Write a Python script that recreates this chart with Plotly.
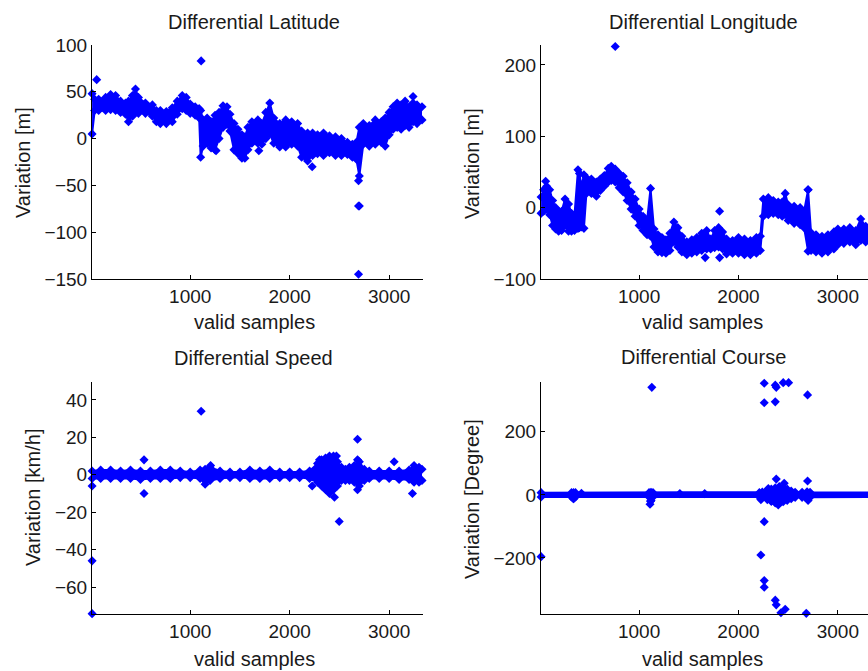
import plotly.graph_objects as go

W, H = 868, 671

# ---------------- data ----------------
# Differential Latitude: band envelope + isolated samples
lat_x = [14, 40, 80, 150, 200, 250, 300, 350, 380, 420, 450, 480, 550, 620, 660, 700, 760, 820, 870, 920,
         960, 1000, 1050, 1090, 1105, 1130, 1170, 1210, 1250, 1290, 1330, 1370, 1400, 1440, 1480, 1520, 1550,
         1580, 1620, 1680, 1720, 1760, 1800, 1840, 1900, 1960, 2020, 2080, 2120, 2180, 2230, 2280, 2340, 2400,
         2460, 2520, 2580, 2630, 2670, 2700, 2740, 2800, 2860, 2920, 2960, 3000, 3040, 3080, 3120, 3160, 3200,
         3240, 3280, 3330]
lat_hi = [48, 42, 42, 44, 47, 46, 40, 38, 40, 46, 53, 44, 38, 36, 30, 30, 29, 33, 40, 46,
          44, 37, 34, 32, 30, 20, 22, 18, 25, 28, 35, 34, 26, 16, 10, 4, 2,
          12, 18, 20, 16, 28, 38, 22, 16, 20, 18, 16, 8, 6, 6, 4, 6, 3,
          2, 0, -4, -6, -4, 12, 16, 14, 20, 18, 22, 28, 34, 38, 36, 40, 34,
          38, 36, 34]
lat_lo = [5, 30, 30, 30, 31, 30, 28, 26, 18, 24, 28, 27, 27, 24, 18, 16, 16, 18, 26, 32,
          30, 27, 25, 22, -20, -8, -5, -10, -12, 0, 12, 15, 8, -12, -16, -21, -21,
          -12, -5, -5, -6, 0, 5, -5, -9, -9, -6, -8, -20, -24, -18, -16, -18, -15,
          -18, -18, -17, -20, -22, -40, -6, -8, -6, -4, -8, 4, 10, 12, 10, 14, 12,
          18, 16, 20]
lat_out_x = [60, 1110, 1260, 1690, 2226, 2692, 2692, 2700, 2692, 3240]
lat_out_y = [63, 83, -13, -13, -30, -45, -72, -72, -145, 45]

# Differential Longitude
lon_x = [14, 40, 70, 100, 130, 160, 190, 220, 255, 290, 320, 350, 385, 400, 420, 445, 470, 520, 570, 610,
         650, 690, 720, 760, 800, 840, 880, 920, 960, 1000, 1040, 1080, 1115, 1150, 1190, 1230, 1270, 1310,
         1350, 1390, 1430, 1480, 1530, 1580, 1630, 1680, 1720, 1760, 1800, 1840, 1880, 1940, 2000, 2060,
         2120, 2180, 2220, 2250, 2300, 2350, 2400, 2440, 2470, 2500, 2560, 2620, 2660, 2700, 2730, 2780,
         2840, 2900, 2960, 3000, 3060, 3120, 3180, 3230, 3280, 3330]
lon_hi = [15, 25, 30, 25, 10, 0, -5, -5, 12, 5, -8, -10, 53, 48, 30, 46, 42, 40, 36, 40,
          45, 55, 58, 54, 48, 44, 35, 22, 12, -2, -12, -18, 27, -30, -38, -42, -45, -36,
          -20, -28, -40, -48, -45, -42, -36, -32, -44, -32, -28, -34, -44, -46, -42, -44,
          -46, -42, -40, 12, 14, 10, 8, 8, 20, 4, 2, 0, -5, 25, -35, -38,
          -40, -38, -34, -30, -30, -28, -32, -16, -26, -28]
lon_lo = [-8, -5, -2, -10, -25, -30, -33, -32, -25, -33, -33, -32, -29, -28, -27, -29, 20, 20, 16, 24,
          30, 36, 38, 36, 28, 22, 10, -2, -12, -25, -32, -38, -40, -55, -62, -63, -64, -60,
          -48, -55, -62, -66, -64, -62, -60, -58, -58, -56, -55, -58, -65, -64, -64, -66,
          -66, -64, -60, -12, -10, -8, -10, -12, -10, -18, -22, -24, -28, -61, -60, -62,
          -64, -62, -58, -52, -50, -48, -52, -46, -48, -50]
lon_out_x = [60, 760, 1665, 1810, 1810, 2700]
lon_out_y = [37, 226, -70, -5, -70, 25]

# Differential Speed
spd_x = [14, 100, 200, 300, 400, 500, 600, 700, 800, 900, 1000, 1100, 1150, 1200, 1300, 1400, 1500, 1600,
         1700, 1800, 1900, 2000, 2100, 2200, 2280, 2320, 2360, 2400, 2440, 2480, 2520, 2560, 2600, 2650,
         2700, 2750, 2800, 2900, 3000, 3100, 3200, 3250, 3300, 3330]
spd_hi = [2, 2.5, 2.5, 2, 2.5, 2, 2, 2.5, 2.5, 2, 1.5, 2.5, 3, 4, 2, 1.5, 1.5, 2.5,
          2, 2.5, 1.5, 1.5, 1.5, 2, 6, 8, 9, 8, 10, 7, 4, 3, 4, 5,
          7, 3, 2, 2, 2, 2, 2.5, 5, 4, 3]
spd_lo = [-2, -2, -2, -2, -2, -2.5, -2, -2, -2, -1.5, -1.5, -2, -5, -3, -2, -1.5, -1.5, -2,
          -2, -2, -1.5, -1.5, -1.5, -2, -4, -6, -8, -10, -8, -6, -3, -3, -3, -4,
          -6, -3, -2, -2, -2, -2.5, -2.5, -4, -4, -3]
spd_out_x = [14, 14, 14, 536, 536, 1110, 1205, 2226, 2300, 2400, 2450, 2470, 2498, 2682, 2682, 2682, 3050, 3234]
spd_out_y = [-6, -46, -74.2, 8, -10, 34, 5, -6, 8, 10, -12, 10, -25, 19, 8, -8, 7, -10]

# Differential Course
crs_x = [14, 320, 340, 360, 1100, 1120, 1140, 2210, 2240, 2290, 2330, 2370, 2410, 2450, 2490, 2530, 2570,
         2640, 2690, 2720, 3340]
crs_hi = [7, 7, 7, 7, 7, 8, 7, 7, 9, 14, 18, 22, 26, 22, 18, 12, 8, 8, 10, 8, 7]
crs_lo = [-7, -7, -12, -7, -7, -18, -7, -7, -10, -15, -20, -26, -26, -22, -18, -12, -8, -8, -12, -8, -7]
crs_out_x = [14, 340, 420, 1110, 1115, 1128, 1410, 1660, 2225, 2225, 2259, 2259, 2259, 2259, 2259,
             2300, 2330, 2370, 2380, 2370, 2370, 2380, 2380, 2400, 2427, 2450, 2460, 2470, 2504,
             2682, 2695, 2695, 2700]
crs_out_y = [-196, -12, 5, -30, -20, 341, 4, 4, -191, -15, 354, 292, -85, -272, -293,
             20, -20, 348, 341, 295, -334, -349, 50, -32, -374, 356, 37, -363, 356,
             -376, 317, 44, -18]

x_ticks = [1000, 2000, 3000]
lat_ticks = [-150, -100, -50, 0, 50, 100]
lon_ticks = [-100, 0, 100, 200]
spd_ticks = [-60, -40, -20, 0, 20, 40]
crs_ticks = [-200, 0, 200]

titles = ["Differential Latitude", "Differential Longitude", "Differential Speed", "Differential Course"]
ylabels = ["Variation [m]", "Variation [m]", "Variation [km/h]", "Variation [Degree]"]
xlabel = "valid samples"

# ---------------- figure ----------------
BLUE = "rgb(0,0,255)"
FONT = "Liberation Sans, Arial, sans-serif"
TXT = "#1a1a1a"

fig = go.Figure()

panels = [
    (lat_x, lat_hi, lat_lo, lat_out_x, lat_out_y, "x", "y"),
    (lon_x, lon_hi, lon_lo, lon_out_x, lon_out_y, "x2", "y2"),
    (spd_x, spd_hi, spd_lo, spd_out_x, spd_out_y, "x3", "y3"),
    (crs_x, crs_hi, crs_lo, crs_out_x, crs_out_y, "x4", "y4"),
]
mk = dict(symbol="diamond", size=7, color=BLUE, line=dict(width=0))
ln = dict(color=BLUE, width=2)
for xs, hi, lo, ox, oy, xa, ya in panels:
    fig.add_trace(go.Scatter(x=xs, y=lo, mode="lines+markers", marker=mk, line=ln, xaxis=xa, yaxis=ya,
                             cliponaxis=False, showlegend=False, hoverinfo="skip"))
    fig.add_trace(go.Scatter(x=xs, y=hi, mode="lines+markers", marker=mk, line=ln, fill="tonexty",
                             fillcolor=BLUE, xaxis=xa, yaxis=ya, cliponaxis=False, showlegend=False,
                             hoverinfo="skip"))
    fig.add_trace(go.Scatter(x=ox, y=oy, mode="markers", marker=mk, xaxis=xa, yaxis=ya,
                             cliponaxis=False, showlegend=False))

def px_x(p):
    return p / W

def px_y(p):
    return 1 - p / H

L_dom = [px_x(92), px_x(423)]
R_dom = [px_x(541), 1.0]
T_dom = [px_y(279), px_y(45)]
B_dom = [px_y(614), px_y(382)]

axis_common = dict(showline=True, linecolor="black", linewidth=1, ticks="inside", ticklen=4,
                   tickcolor="black", showgrid=False, zeroline=False, mirror=False, automargin=False,
                   tickfont=dict(family=FONT, size=19, color=TXT))

fig.update_layout(
    template="none",
    width=W, height=H, margin=dict(l=0, r=0, t=0, b=0, pad=0, autoexpand=False),
    paper_bgcolor="white", plot_bgcolor="white", showlegend=False,
    xaxis=dict(domain=L_dom, anchor="y", range=[13, 3340], tickvals=x_ticks, **axis_common),
    yaxis=dict(domain=T_dom, anchor="x", range=[-150, 100], tickvals=lat_ticks, **axis_common),
    xaxis2=dict(domain=R_dom, anchor="y2", range=[13, 3303], tickvals=x_ticks, **axis_common),
    yaxis2=dict(domain=T_dom, anchor="x2", range=[-100, 228], tickvals=lon_ticks, **axis_common),
    xaxis3=dict(domain=L_dom, anchor="y3", range=[13, 3340], tickvals=x_ticks, **axis_common),
    yaxis3=dict(domain=B_dom, anchor="x3", range=[-74.4, 49.6], tickvals=spd_ticks, **axis_common),
    xaxis4=dict(domain=R_dom, anchor="y4", range=[13, 3303], tickvals=x_ticks, **axis_common),
    yaxis4=dict(domain=B_dom, anchor="x4", range=[-378, 358], tickvals=crs_ticks, **axis_common),
)

ann = []
def add_text(text, x, y, angle=0):
    ann.append(dict(text=text, x=px_x(x), y=px_y(y), xref="paper", yref="paper", showarrow=False,
                    xanchor="center", yanchor="middle", textangle=angle,
                    font=dict(family=FONT, size=20, color=TXT)))

add_text(titles[0], 254, 22)
add_text(titles[1], 703, 22)
add_text(titles[2], 253, 358)
add_text(titles[3], 703, 357)
add_text(xlabel, 254, 322)
add_text(xlabel, 702, 322)
add_text(xlabel, 254, 659)
add_text(xlabel, 702, 659)
add_text(ylabels[0], 23, 163, -90)
add_text(ylabels[1], 472, 164, -90)
add_text(ylabels[2], 33, 498, -90)
add_text(ylabels[3], 472, 499, -90)
fig.update_layout(annotations=ann)

fig.write_html("out.html")
